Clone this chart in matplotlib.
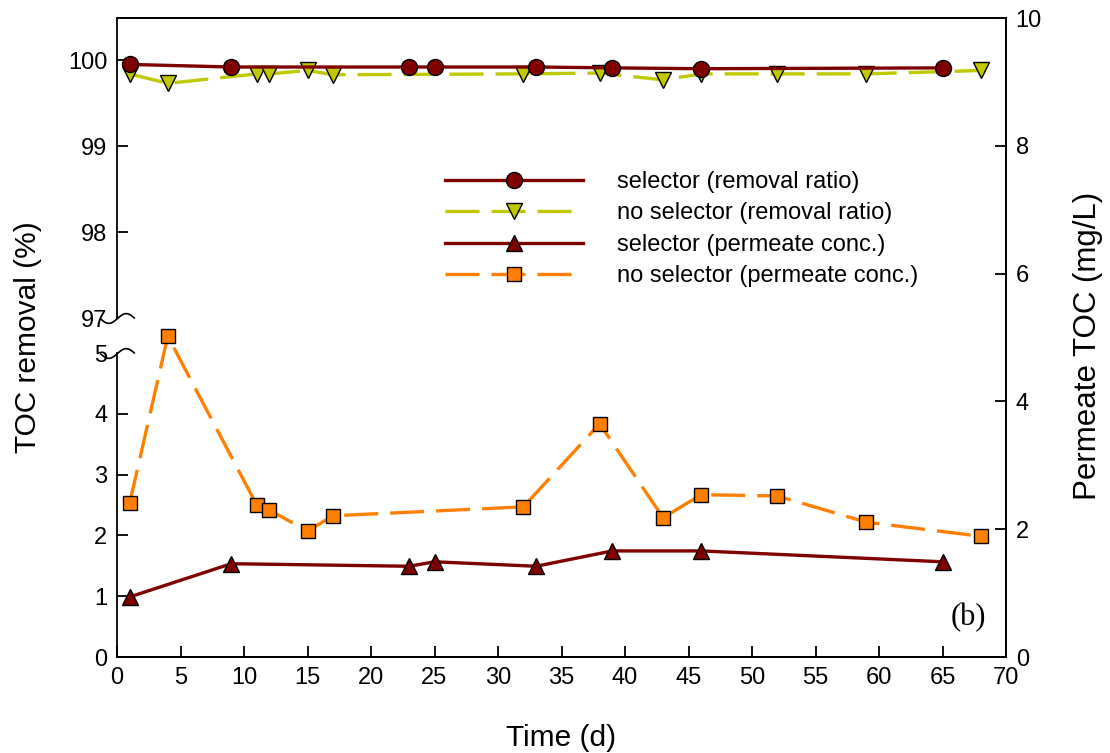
import numpy as np
import matplotlib
matplotlib.use("Agg")
import matplotlib.pyplot as plt
from matplotlib.path import Path

# --- datos ---
dias_sel_rem = [1, 9, 23, 25, 33, 39, 46, 65]
rem_sel = [99.95, 99.92, 99.92, 99.92, 99.92, 99.91, 99.90, 99.91]

dias_nosel_rem = [1, 4, 11, 12, 15, 17, 32, 38, 43, 46, 52, 59, 68]
rem_nosel = [99.84, 99.73, 99.84, 99.84, 99.88, 99.83, 99.84, 99.85, 99.77, 99.84, 99.84, 99.84, 99.88]

dias_sel_perm = [1, 9, 23, 25, 33, 39, 46, 65]
perm_sel = [0.94, 1.46, 1.42, 1.49, 1.42, 1.66, 1.66, 1.49]

dias_nosel_perm = [1, 4, 11, 12, 15, 17, 32, 38, 43, 46, 52, 59, 68]
perm_nosel = [2.41, 5.02, 2.38, 2.30, 1.97, 2.21, 2.35, 3.65, 2.18, 2.54, 2.52, 2.11, 1.89]

etiquetas = ['selector (removal ratio)', 'no selector (removal ratio)',
             'selector (permeate conc.)', 'no selector (permeate conc.)']

rojo = '#800000'
amarillo = '#bfc800'
naranja = '#ff8000'

plt.rcParams['font.family'] = ['Liberation Sans', 'DejaVu Sans']


# escala partida del eje izquierdo: 0-5 abajo, 97-100 arriba
def adelante(v):
    v = np.asarray(v, dtype=float)
    return np.where(v <= 5, v * 60.8,
                    np.where(v < 97, 304 + (v - 5) * 35 / 92, 339 + (v - 97) * 86))


def atras(p):
    p = np.asarray(p, dtype=float)
    return np.where(p <= 304, p / 60.8,
                    np.where(p < 339, 5 + (p - 304) * 92 / 35, 97 + (p - 339) / 86))


fig = plt.figure(figsize=(11.1, 7.53), dpi=100)
ax = fig.add_axes([117 / 1110, 1 - 657 / 753, 889 / 1110, 639 / 753])
ax2 = ax.twinx()

ax.set_yscale('function', functions=(adelante, atras))
ax.set_ylim(0, 100.49)
ax.set_xlim(0, 70)
ax2.set_ylim(0, 10)

discontinua = (0, (10.2, 3.6))
lw = 2.4

l1, = ax.plot(dias_sel_rem, rem_sel, color=rojo, lw=lw, marker='o', ms=11.5,
              mfc=rojo, mec='black', mew=1.0, zorder=4)
l2, = ax.plot(dias_nosel_rem, rem_nosel, color=amarillo, lw=lw, ls=discontinua,
              marker='v', ms=11, mfc=amarillo, mec='black', mew=1.0, zorder=3)
l3, = ax2.plot(dias_sel_perm, perm_sel, color=rojo, lw=lw, marker='^', ms=11,
               mfc=rojo, mec='black', mew=1.0, zorder=4)
l4, = ax2.plot(dias_nosel_perm, perm_nosel, color=naranja, lw=lw, ls=discontinua,
               marker='s', ms=10, mfc=naranja, mec='black', mew=1.0, zorder=3)

# ejes y marcas
ax.set_xticks(range(0, 71, 5))
ax.set_yticks([0, 1, 2, 3, 4, 5, 97, 98, 99, 100])
ax.set_yticklabels(['0', '1', '2', '3', '4', '5', '97', '98', '99', '100'])
ax.yaxis.set_minor_locator(matplotlib.ticker.NullLocator())
ax2.set_yticks(range(0, 11, 2))
for a in (ax, ax2):
    a.tick_params(direction='in', length=8, width=1.3, labelsize=17, pad=7)
    for s in a.spines.values():
        s.set_linewidth(1.3)
ax.tick_params(axis='x', top=False)

# ocultar marcas en el corte
for t in ax.yaxis.get_major_ticks():
    if t.get_loc() in (5, 97):
        t.tick1line.set_visible(False)

# eje izquierdo partido
ax.spines['left'].set_visible(False)
ax2.spines['left'].set_visible(False)
ty = ax.get_yaxis_transform()
ax.plot([0, 0], [0, 5], color='black', lw=1.3, transform=ty, clip_on=False, zorder=5)
ax.plot([0, 0], [97, 100.49], color='black', lw=1.3, transform=ty, clip_on=False, zorder=5)

xs = np.linspace(-1, 1, 40)
onda = Path(np.column_stack([xs, 0.28 * np.sin(np.pi * xs)]))
for yb in (5, 97):
    ax.plot([0], [yb], marker=onda, ms=25, mfc='none', mec='black', mew=1.2,
            transform=ty, clip_on=False, zorder=6)

ax.set_xlabel('Time (d)', fontsize=21.5)
ax.set_ylabel('TOC removal (%)', fontsize=21.5)
ax2.set_ylabel('Permeate TOC (mg/L)', fontsize=22.5)
ax.xaxis.set_label_coords(0.5, -0.105)
ax.yaxis.set_label_coords(-0.084, 0.5)
ax2.yaxis.set_label_coords(1.075, 0.487)

ax2.legend([l1, l2, l3, l4], etiquetas, loc='upper left',
           bbox_to_anchor=(445 / 1110, 1 - 171 / 753), bbox_transform=fig.transFigure,
           frameon=False, fontsize=17, handlelength=5.85, handletextpad=1.44,
           labelspacing=0.4, borderpad=0, borderaxespad=0, numpoints=1)

fig.text(968 / 1110, 1 - 618 / 753, '(b)', family=['Liberation Serif', 'DejaVu Serif'],
         fontsize=22, ha='center', va='center')

plt.savefig('out.png', dpi=100)
